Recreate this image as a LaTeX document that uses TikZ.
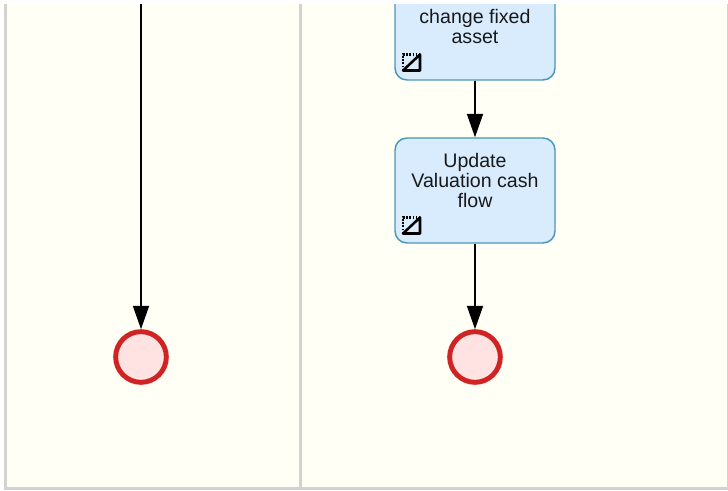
\documentclass[tikz,border=0pt]{standalone}
\usepackage{fontspec}
\setmainfont{Liberation Sans}
\usetikzlibrary{arrows.meta}
\definecolor{lanebg}{HTML}{FFFFF5}
\definecolor{laneline}{HTML}{D2D2D0}
\definecolor{taskfill}{HTML}{D8ECFE}
\definecolor{taskline}{HTML}{4A96B8}
\definecolor{endfill}{HTML}{FFE3E3}
\definecolor{endline}{HTML}{D02424}
\tikzset{
  x=0.75pt,y=-0.75pt,
  taskbox/.style={draw=taskline,fill=taskfill,line width=1.1pt,rounded corners=9pt,minimum width=120pt,minimum height=78.75pt,inner sep=0pt},
  tasktext/.style={align=center,inner sep=0pt,font=\fontsize{14.7pt}{14.7pt}\selectfont,text=black!90},
  endevent/.style={circle,draw=endline,fill=endfill,line width=3.7pt,minimum size=38pt,inner sep=0pt},
  flow/.style={draw=black,line width=1.2pt,-{Triangle[length=17.5pt,width=12pt]}},
  laneborder/.style={draw=laneline,line width=2.4pt},
}
\newcommand{\marker}[2]{%
  \draw[line width=1.7pt,dash pattern=on 1.2pt off 1.2pt] (#1,#2) -- ++(0,-16) -- ++(17,0);
  \draw[line width=1.9pt,line cap=round,line join=round] (#1,#2) -- ++(17,0) -- ++(0,-16) -- cycle;
}
\begin{document}
\begin{tikzpicture}
\useasboundingbox (0,0) rectangle (728,491);
\fill[white] (0,0) rectangle (728,491);
\begin{scope}
\clip (0,5) rectangle (728,491);
\fill[lanebg] (5.5,0) rectangle (728,488.5);
\draw[laneborder] (5.5,0) -- (5.5,488.5) -- (728,488.5);
\draw[laneborder] (300.5,0) -- (300.5,488.5);
\draw[draw=laneline,line width=1pt] (727.5,0) -- (727.5,488.5);
\node[taskbox] (t1) at (475,27.5) {};
\node[taskbox] (t2) at (475,190.5) {};
\node[endevent] (e1) at (141,357) {};
\node[endevent] (e2) at (475,357) {};
\node[tasktext] (l1) at (475,26.5) {change fixed\\[0pt]asset};
\node[tasktext] (l2) at (475,180.5) {Update\\[0pt]Valuation cash\\[0pt]flow};
\coordinate (top) at (141,0);
\draw[flow] (top) -- (e1);
\draw[flow] (t1) -- (t2);
\draw[flow] (t2) -- (e2);
\marker{403}{70.5}
\marker{403}{233.5}
\end{scope}
\end{tikzpicture}
\end{document}
